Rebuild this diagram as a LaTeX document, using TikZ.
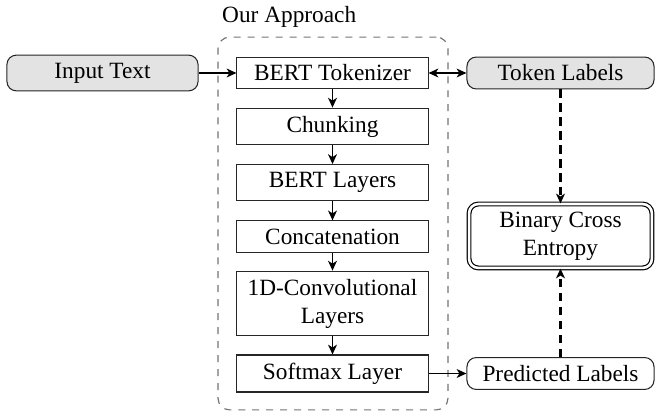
\documentclass[tikz,border=0pt]{standalone}
\usepackage{fontspec}
\setmainfont{Liberation Serif}
\usetikzlibrary{arrows.meta}
\begin{document}
\begin{tikzpicture}[x=0.4292pt,y=-0.4292pt,
  font=\rmfamily\fontsize{10pt}{12pt}\selectfont,
  stepbox/.style={draw=black!85,line width=0.45pt,minimum width=82pt,align=center},
  iobox/.style={draw=black!85,line width=0.45pt,rounded corners=4pt,minimum width=80.3pt,align=center},
  grayio/.style={iobox,fill=black!11},
  lossbox/.style={draw=black,double,line width=0.5pt,double distance=1.1pt,rounded corners=4pt,minimum width=78.5pt,align=center},
  arr/.style={line width=0.65pt,-{Stealth[length=4.2pt,width=3.8pt,inset=1.2pt]}},
  darr/.style={line width=0.9pt,draw=black,dash pattern=on 3.5pt off 2.5pt,-{Stealth[length=4.2pt,width=3.8pt,inset=1.2pt]}},
  biarr/.style={line width=0.65pt,{Stealth[length=4.2pt,width=3.8pt,inset=1.2pt]}-{Stealth[length=4.2pt,width=3.8pt,inset=1.2pt]}},
  container/.style={draw=black!55,dashed,line width=0.5pt,rounded corners=5pt}
]
\useasboundingbox (0,0) rectangle (655,411);
\node[container,minimum width=98.7pt,minimum height=160pt,inner sep=0pt] (box) at (333,223.5) {};
\node[anchor=west] (lbl) at (214,17) {Our Approach};

\node[stepbox] (tok) at (332.5,73) {BERT Tokenizer};
\node[stepbox] (chunk) at (332.5,126.5) {Chunking};
\node[stepbox] (bl) at (332.5,182.5) {BERT Layers};
\node[stepbox] (cat) at (332.5,236.5) {Concatenation};
\node[stepbox] (conv) at (332.5,303.5) {1D-Convolutional\\Layers};
\node[stepbox] (soft) at (332.5,373.5) {Softmax Layer};

\node[grayio,minimum width=82pt] (input) at (102.5,73) {Input Text};
\node[grayio] (tl) at (560.5,73) {Token Labels};
\node[lossbox] (bce) at (560.5,236) {Binary Cross\\Entropy};
\node[iobox] (pl) at (560.5,373.5) {Predicted Labels};

\draw[arr] (input) -- (tok);
\draw[arr] (tok) -- (chunk);
\draw[arr] (chunk) -- (bl);
\draw[arr] (bl) -- (cat);
\draw[arr] (cat) -- (conv);
\draw[arr] (conv) -- (soft);
\draw[biarr] (tok) -- (tl);
\draw[arr] (soft) -- (pl);
\draw[darr] (tl) -- (bce);
\draw[darr] (pl) -- (bce);
\end{tikzpicture}
\end{document}
